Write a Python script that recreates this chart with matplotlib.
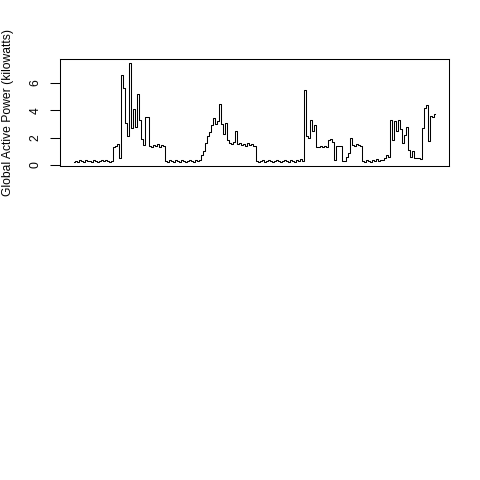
import matplotlib
matplotlib.use("Agg")
import matplotlib.pyplot as plt
import numpy as np

# Global active power, sampled evenly across the period (kilowatts)
power_kw = [
    # first night
    0.25, 0.30, 0.25, 0.35, 0.30, 0.25, 0.40, 0.30, 0.30, 0.25,
    0.35, 0.30, 0.25, 0.30, 0.35, 0.30, 0.40, 0.30, 0.25, 0.30,
    # first day
    1.35, 1.40, 1.55, 0.50, 6.60, 5.60, 3.10, 2.10, 7.45, 2.70,
    4.10, 2.80, 5.20, 3.30, 1.90, 1.45, 3.50, 3.50, 1.40, 1.35,
    1.45, 1.40, 1.50, 1.35, 1.45, 1.40,
    # second night
    0.30, 0.25, 0.35, 0.30, 0.25, 0.40, 0.30, 0.25, 0.35, 0.30,
    0.25, 0.30, 0.40, 0.30, 0.25, 0.35, 0.30, 0.40,
    # second day
    0.70, 1.00, 1.60, 2.10, 2.40, 2.90, 3.40, 3.00, 3.20, 4.45,
    3.00, 2.30, 3.10, 1.80, 1.60, 1.50, 1.70, 2.50, 1.50, 1.60,
    1.45, 1.55, 1.40, 1.60, 1.45, 1.50, 1.40,
    # third night
    0.30, 0.25, 0.30, 0.35, 0.25, 0.30, 0.40, 0.30, 0.25, 0.30,
    0.35, 0.30, 0.25, 0.30, 0.40, 0.30, 0.25, 0.35, 0.30, 0.25,
    0.40, 0.30, 0.45, 0.30,
    # third day
    5.50, 2.10, 2.00, 3.30, 2.50, 2.90, 1.30, 1.35, 1.40, 1.30,
    1.40, 1.35, 1.80, 1.90, 1.70, 0.40, 1.40, 1.40, 1.40, 0.30,
    0.30, 0.60, 0.90, 2.00, 1.45, 1.40, 1.50, 1.45, 1.40, 0.30,
    0.25, 0.35, 0.30, 0.25, 0.40, 0.30, 0.45, 0.30, 0.35, 0.40,
    0.50, 0.70, 0.60, 3.30, 1.80, 3.20, 2.50, 3.30, 2.60, 1.60,
    2.20, 2.80, 1.10, 0.60, 1.00, 0.55, 0.50, 0.50, 0.45, 2.70,
    4.15, 4.35, 1.75, 3.60, 3.50, 3.70,
]
y_ticks = [0, 2, 4, 6]

t = np.arange(len(power_kw))
n = len(power_kw) - 1
pad = 0.04 * n

fig = plt.figure(figsize=(4.8, 4.8), dpi=100)
ax = fig.add_axes([60 / 480, 1 - 166 / 480, 389 / 480, 107 / 480])
ax.plot(t, power_kw, color="black", linewidth=0.75, drawstyle="steps-mid")

ax.set_xlim(-pad, n + pad)
ax.set_ylim(-0.07, 7.74)
ax.set_xticks([])
ax.set_yticks(y_ticks)
ax.set_yticklabels([str(v) for v in y_ticks], rotation=90, va="center",
                   fontsize=8.7, family="Liberation Sans")
ax.tick_params(axis="y", length=7, width=0.75, pad=6.5)
for s in ax.spines.values():
    s.set_linewidth(0.75)

fig.text(8 / 480, 1 - 112.5 / 480, "Global Active Power (kilowatts)",
         rotation=90, ha="center", va="center", fontsize=8.7,
         family="Liberation Sans")

fig.savefig("out.png", dpi=100)
